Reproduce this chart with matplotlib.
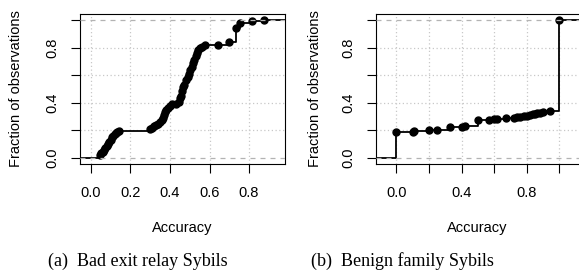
import matplotlib.pyplot as plt
import numpy as np

plt.rcParams['font.family'] = ['Liberation Sans', 'DejaVu Sans']

# (a) bad exit relay sybils - wartosci dokladnosci i ile razy wystepuja
bad_acc = [0.045, 0.05, 0.06, 0.065, 0.07, 0.08, 0.085, 0.09, 0.10, 0.105,
           0.11, 0.12, 0.125, 0.13, 0.14, 0.30, 0.31, 0.32, 0.33, 0.34,
           0.35, 0.36, 0.365, 0.37, 0.375, 0.38, 0.39, 0.40, 0.41, 0.43,
           0.445, 0.45, 0.455, 0.46, 0.465, 0.47, 0.48, 0.49, 0.495, 0.50,
           0.51, 0.515, 0.52, 0.53, 0.535, 0.54, 0.55, 0.56, 0.575, 0.645,
           0.70, 0.735, 0.755, 0.815, 0.875]
bad_cnt = [5, 2, 2, 3, 3, 3, 3, 2, 4, 3,
           2, 3, 2, 1, 2, 2, 2, 2, 2, 2,
           2, 3, 3, 5, 4, 3, 3, 3, 2, 1,
           2, 6, 4, 6, 6, 4, 6, 5, 5, 5,
           5, 5, 4, 6, 5, 4, 3, 2, 2, 1,
           4, 20, 8, 3, 1]

# (b) benign family sybils
benign_acc = [0.0, 0.10, 0.11, 0.20, 0.25, 0.33, 0.40, 0.42, 0.50, 0.57,
              0.60, 0.62, 0.67, 0.72, 0.74, 0.76, 0.78, 0.80, 0.82, 0.84,
              0.85, 0.86, 0.88, 0.90, 0.94, 1.0]
benign_cnt = [47, 1, 1, 1, 1, 5, 1, 1, 10, 1,
              1, 1, 1, 1, 1, 1, 1, 1, 1, 1,
              1, 1, 1, 1, 3, 164]

yticks = [0.0, 0.2, 0.4, 0.6, 0.8, 1.0]
ylabels = ['0.0', '', '0.4', '', '0.8', '']

FS = 10.5


def ecdf_plot(ax, acc, cnt, xlim, xticks, xlabels):
    obs = np.sort(np.repeat(acc, cnt))
    xs = np.unique(obs)
    F = np.searchsorted(obs, xs, side='right') / len(obs)
    # siatka
    for t in xticks:
        ax.axvline(t, color='#c8c8c8', ls=(0, (1, 2)), lw=0.9, zorder=0)
    for t in yticks[1:-1]:
        ax.axhline(t, color='#c8c8c8', ls=(0, (1, 2)), lw=0.9, zorder=0)
    sx = np.concatenate([[xlim[0]], xs, [xlim[1]]])
    sy = np.concatenate([[0], F, [F[-1]]])
    ax.step(sx, sy, where='post', color='black', lw=1.3, zorder=2)
    ax.plot(xs, F, 'o', color='black', ms=5, zorder=3)
    ax.axhline(0, color='#b3b3b3', ls=(0, (4, 4)), lw=0.9, zorder=4)
    ax.axhline(1, color='#b3b3b3', ls=(0, (4, 4)), lw=0.9, zorder=4)
    ax.set_xlim(xlim)
    ax.set_ylim(-0.043, 1.043)
    ax.set_xticks(xticks)
    ax.set_xticklabels(xlabels)
    ax.set_yticks(yticks)
    ax.set_yticklabels(ylabels, rotation=90, va='center')
    ax.tick_params(direction='out', length=6.5, width=0.8, labelsize=FS,
                   color='black')
    ax.tick_params(axis='x', pad=9)
    ax.tick_params(axis='y', pad=8)
    for s in ax.spines.values():
        s.set_linewidth(0.8)


fig = plt.figure(figsize=(5.79, 2.73), dpi=100)
W, H = 579.0, 273.0
ax1 = fig.add_axes([79.5 / W, 1 - 164 / H, (284.6 - 79.5) / W, 150 / H])
ax2 = fig.add_axes([375.7 / W, 1 - 164 / H, (580 - 375.7) / W, 150 / H])

ecdf_plot(ax1, bad_acc, bad_cnt, (-0.058, 0.98),
          [0.0, 0.2, 0.4, 0.6, 0.8], ['0.0', '0.2', '0.4', '0.6', '0.8'])
ecdf_plot(ax2, benign_acc, benign_cnt, (-0.126, 1.126),
          [0.0, 0.2, 0.4, 0.6, 0.8, 1.0], ['0.0', '', '0.4', '', '0.8', ''])

for cx, ycx in [(182 / W, 16.5 / W), (477.7 / W, 315 / W)]:
    fig.text(cx, 1 - 228 / H, 'Accuracy', ha='center', va='center', fontsize=FS)
    fig.text(ycx, 1 - 89 / H, 'Fraction of observations', ha='center',
             va='center', rotation=90, fontsize=FS)

fig.text(138 / W, 1 - 261 / H, '(a)  Bad exit relay Sybils', ha='center',
         va='center', fontsize=13, family='Liberation Serif')
fig.text(402 / W, 1 - 261 / H, '(b)  Benign family Sybils', ha='center',
         va='center', fontsize=13, family='Liberation Serif')

fig.savefig('out.png', dpi=100)
